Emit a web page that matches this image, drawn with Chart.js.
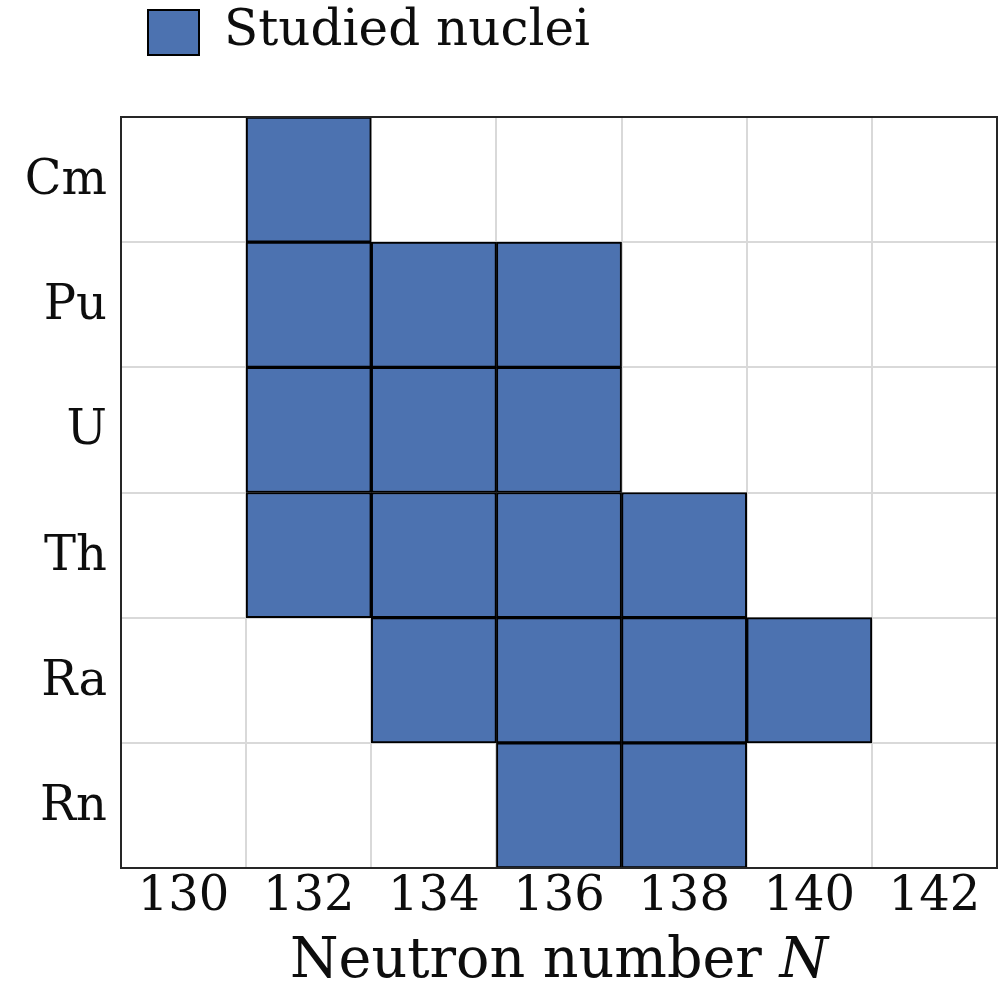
<!DOCTYPE html>
<html>
<head>
<meta charset="utf-8">
<script src="https://cdn.jsdelivr.net/npm/chart.js@4/dist/chart.umd.min.js"></script>
<style>
  html, body { margin: 0; padding: 0; background: #fff; }
  canvas { display: block; }
</style>
</head>
<body>
<canvas id="chart" width="1005" height="983"></canvas>
<script>
// Elements, top row first
const elements = ['Cm', 'Pu', 'U', 'Th', 'Ra', 'Rn'];
// Neutron numbers shown on the x axis
const neutronTicks = [130, 132, 134, 136, 138, 140, 142];
// Neutron numbers of the studied nuclei, one list per element
const studiedN = [
    [132],                // Cm
    [132, 134, 136],      // Pu
    [132, 134, 136],      // U
    [132, 134, 136, 138], // Th
    [134, 136, 138, 140], // Ra
    [136, 138]            // Rn
];

const cellColor = '#4c72b0';
const textColor = '#0d0d0d';
const gridColor = '#d9d9d9';

Chart.defaults.font.family = '"DejaVu Serif", serif';
Chart.defaults.color = textColor;

// one dataset per neutron column, each cell spans N-1 .. N+1
const datasets = neutronTicks
    .map(n => ({
        label: 'Studied nuclei',
        data: studiedN.map(list => list.includes(n) ? [n - 1, n + 1] : null),
        backgroundColor: cellColor,
        borderColor: '#000000',
        borderWidth: 2,
        borderSkipped: false,
        barPercentage: 1,
        categoryPercentage: 1,
        grouped: false
    }))
    .filter(ds => ds.data.some(v => v !== null));

// move the legend to the upper left corner, above the plot
const legendPlacement = {
    id: 'legendPlacement',
    afterLayout(chart) {
        const lg = chart.legend;
        const w = lg.width, h = lg.height;
        lg.left = 138;
        lg.right = lg.left + w;
        lg.top = -2.5;
        lg.bottom = lg.top + h;
    }
};

// frame around the plot area and the x axis title with an italic N
const frameAndTitle = {
    id: 'frameAndTitle',
    afterDraw(chart) {
        const { ctx, chartArea: a } = chart;
        ctx.save();
        ctx.strokeStyle = '#262626';
        ctx.lineWidth = 2;
        ctx.strokeRect(a.left, a.top, a.right - a.left, a.bottom - a.top);

        const plain = 'Neutron number ';
        const italic = 'N';
        ctx.fillStyle = textColor;
        ctx.textBaseline = 'alphabetic';
        ctx.textAlign = 'left';
        ctx.font = '55.5px "DejaVu Serif"';
        const w1 = ctx.measureText(plain).width;
        ctx.font = 'italic 55.5px "DejaVu Serif"';
        const w2 = ctx.measureText(italic).width;
        const x0 = (a.left + a.right) / 2 - (w1 + w2) / 2;
        const y = a.bottom + 109;
        ctx.font = '55.5px "DejaVu Serif"';
        ctx.fillText(plain, x0, y);
        ctx.font = 'italic 55.5px "DejaVu Serif"';
        ctx.fillText(italic, x0 + w1, y);
        ctx.restore();
    }
};

new Chart(document.getElementById('chart'), {
    type: 'bar',
    data: { labels: elements, datasets: datasets },
    options: {
        indexAxis: 'y',
        responsive: false,
        animation: false,
        layout: { padding: { top: 47, right: 8, bottom: 0, left: 0 } },
        scales: {
            x: {
                type: 'linear',
                min: neutronTicks[0] - 1,
                max: neutronTicks[neutronTicks.length - 1] + 1,
                afterFit: (scale) => { scale.height = 115; },
                border: { display: false },
                grid: {
                    drawTicks: false,
                    lineWidth: 2,
                    color: (c) => neutronTicks.includes(c.tick.value) ? 'rgba(0,0,0,0)' : gridColor
                },
                ticks: {
                    stepSize: 1,
                    autoSkip: false,
                    maxRotation: 0,
                    minRotation: 0,
                    padding: 1,
                    color: textColor,
                    font: { size: 48 },
                    callback: (v) => neutronTicks.includes(v) ? String(v) : ''
                }
            },
            y: {
                afterFit: (scale) => { scale.width = 121; },
                border: { display: false },
                grid: { drawTicks: false, lineWidth: 2, color: gridColor },
                ticks: { padding: 14, labelOffset: 2, color: textColor, font: { size: 48 } }
            }
        },
        plugins: {
            legend: {
                position: 'top',
                align: 'start',
                labels: {
                    boxWidth: 51,
                    boxHeight: 45,
                    padding: 10,
                    color: textColor,
                    font: { size: 50 },
                    filter: (item) => item.datasetIndex === 0
                },
                onClick: null
            },
            tooltip: { enabled: false }
        }
    },
    plugins: [legendPlacement, frameAndTitle]
});
</script>
</body>
</html>
